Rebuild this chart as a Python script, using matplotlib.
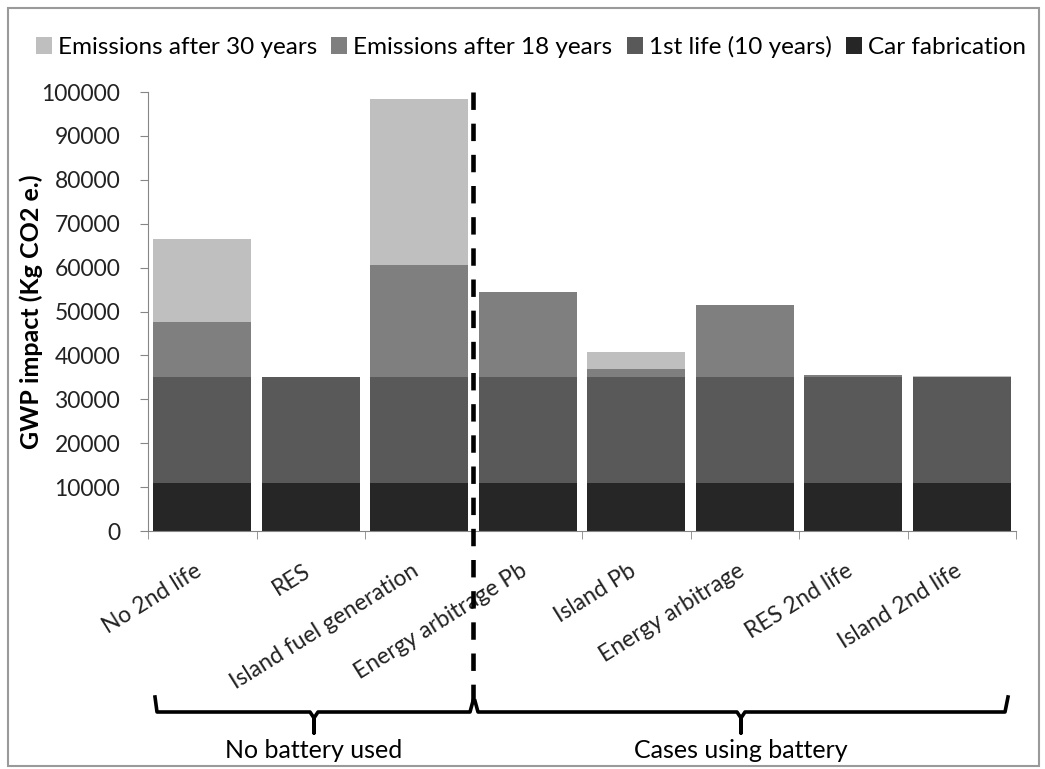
import matplotlib
matplotlib.use("Agg")
import matplotlib.pyplot as plt
import matplotlib.transforms as mtransforms
import numpy as np
from matplotlib.lines import Line2D
from matplotlib.patches import Rectangle

plt.rcParams['font.family'] = ['Lato', 'DejaVu Sans']

categorias = ["No 2nd life", "RES", "Island fuel generation", "Energy arbitrage Pb",
              "Island Pb", "Energy arbitrage", "RES 2nd life", "Island 2nd life"]
car_fab = [11000, 11000, 11000, 11000, 11000, 11000, 11000, 11000]
first_life = [24000, 24000, 24000, 24000, 24000, 24000, 24000, 24000]
after_18 = [12500, 0, 25500, 19500, 2000, 16500, 500, 0]
after_30 = [19000, 0, 38000, 0, 3800, 0, 0, 400]

W, H = 1045, 769
fig = plt.figure(figsize=(W / 100, H / 100), dpi=100)


def fx(px):
    return px / W


def fy(py):
    return 1 - py / H


ax = fig.add_axes([fx(148), fy(531), fx(868), (531 - 92) / H])

x = np.arange(len(categorias))
b1 = np.array(car_fab)
b2 = b1 + np.array(first_life)
b3 = b2 + np.array(after_18)

ax.bar(x, car_fab, 0.9, color="#262626", label="Car fabrication")
ax.bar(x, first_life, 0.9, bottom=b1, color="#595959", label="1st life (10 years)")
ax.bar(x, after_18, 0.9, bottom=b2, color="#7f7f7f", label="Emissions after 18 years")
ax.bar(x, after_30, 0.9, bottom=b3, color="#bfbfbf", label="Emissions after 30 years")

ax.set_xlim(-0.5, len(categorias) - 0.5)
ax.set_ylim(0, 100000)
ax.set_yticks(np.arange(0, 100001, 10000))
ax.tick_params(axis='y', labelsize=16.5, color="#868686", length=6, pad=14, labelcolor="#222222")
ax.set_xticks(x)
ax.set_xticklabels(categorias, rotation=32, ha='right', rotation_mode='anchor', fontsize=16.5)
ax.tick_params(axis='x', which='major', length=0, pad=21, labelcolor="#222222")
ax.set_xticks(np.arange(-0.5, len(categorias)), minor=True)
ax.tick_params(axis='x', which='minor', length=6, color="#868686")
desloc = mtransforms.ScaledTranslation(-8 / 100, 0, fig.dpi_scale_trans)
for lab in ax.get_xticklabels():
    lab.set_bbox(dict(facecolor='white', edgecolor='none', pad=0))
    lab.set_transform(lab.get_transform() + desloc)
for s in ['top', 'right']:
    ax.spines[s].set_visible(False)
for s in ['left', 'bottom']:
    ax.spines[s].set_color("#868686")
ax.set_ylabel("GWP impact (Kg CO2 e.)", fontsize=18, fontweight='bold')
ax.yaxis.set_label_coords((43 - 148) / 868, 0.5)

handles, labels = ax.get_legend_handles_labels()
fig.legend(handles[::-1], labels[::-1], loc='center', bbox_to_anchor=(fx(531), fy(47)),
           ncol=4, frameon=False, fontsize=17.5, handlelength=0.65, handleheight=0.65,
           handletextpad=0.25, columnspacing=0.6)

# linha divisoria
fig.add_artist(Line2D([fx(473), fx(473)], [fy(92), fy(703)], transform=fig.transFigure,
                      color='black', lw=3.3, linestyle=(0, (3.8, 3.0)), zorder=1))

# chaves
chave_esq = [(155, 697), (157, 712), (310, 712), (314, 718), (314, 733),
             (314, 718), (318, 712), (470, 712), (473, 701)]
chave_dir = [(475, 701), (478, 712), (737, 712), (741, 718), (741, 733),
             (741, 718), (745, 712), (1005, 712), (1008, 697)]
for ch in [chave_esq, chave_dir]:
    xs = [fx(p[0]) for p in ch]
    ys = [fy(p[1]) for p in ch]
    fig.add_artist(Line2D(xs, ys, transform=fig.transFigure, color='black', lw=2.6,
                          solid_joinstyle='round'))

fig.text(fx(314), fy(750), "No battery used", ha='center', va='center', fontsize=18)
fig.text(fx(741), fy(750), "Cases using battery", ha='center', va='center', fontsize=18)

# moldura
fig.add_artist(Rectangle((fx(8), fy(766)), fx(1031), (766 - 8) / H,
                         transform=fig.transFigure, fill=False, edgecolor="#9a9a9a", lw=1.5))

plt.savefig("out.png", dpi=100)
